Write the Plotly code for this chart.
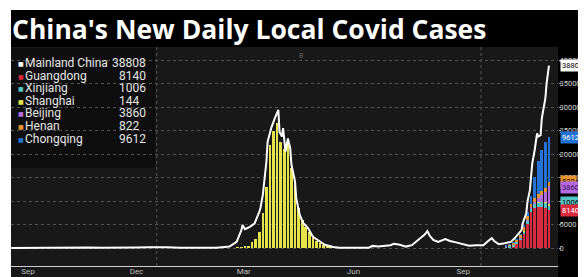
import plotly.graph_objects as go

# ---------------- data ----------------
line_dates = [
    "2021-09-01", "2021-09-10", "2021-09-15", "2021-09-25", "2021-10-05", "2021-10-20",
    "2021-10-28", "2021-11-05", "2021-11-15", "2021-11-25", "2021-12-05", "2021-12-10",
    "2021-12-15", "2021-12-25", "2022-01-01", "2022-01-10", "2022-01-20", "2022-02-01",
    "2022-02-10", "2022-02-20", "2022-02-27", "2022-03-03", "2022-03-09", "2022-03-13",
    "2022-03-14", "2022-03-16", "2022-03-20", "2022-03-24", "2022-03-28", "2022-03-29",
    "2022-03-31", "2022-04-01", "2022-04-03", "2022-04-04", "2022-04-07", "2022-04-10",
    "2022-04-13", "2022-04-14", "2022-04-16", "2022-04-17", "2022-04-19", "2022-04-21",
    "2022-04-23", "2022-04-24", "2022-04-27", "2022-04-28", "2022-05-01", "2022-05-04",
    "2022-05-08", "2022-05-12", "2022-05-16", "2022-05-22", "2022-05-29", "2022-06-03",
    "2022-06-17", "2022-06-28", "2022-07-01", "2022-07-06", "2022-07-16", "2022-07-19",
    "2022-07-24", "2022-07-29", "2022-08-03", "2022-08-08", "2022-08-11", "2022-08-14",
    "2022-08-16", "2022-08-18", "2022-08-21", "2022-08-25", "2022-08-31", "2022-09-04",
    "2022-09-09", "2022-09-15", "2022-09-20", "2022-09-26", "2022-10-02", "2022-10-06",
    "2022-10-09", "2022-10-11", "2022-10-15", "2022-10-20", "2022-10-25", "2022-10-28",
    "2022-10-31", "2022-11-03", "2022-11-04", "2022-11-07", "2022-11-08", "2022-11-10",
    "2022-11-11", "2022-11-12", "2022-11-14", "2022-11-15", "2022-11-16", "2022-11-17",
    "2022-11-19", "2022-11-20", "2022-11-21", "2022-11-23", "2022-11-24", "2022-11-26",
]
mainland_china = [
    20, 40, 60, 10, 5, 20,
    90, 90, 30, 20, 50, 120,
    80, 150, 180, 150, 70, 40,
    80, 60, 200, 300, 1300, 3800,
    4900, 4000, 4500, 5200, 7700, 8500,
    11300, 13400, 18400, 22600, 25500, 27600,
    29400, 24700, 23700, 25500, 20500, 23300,
    21200, 17700, 14100, 10600, 7000, 5300,
    4200, 2400, 1700, 700, 200, 50,
    30, 60, 450, 300, 600, 900,
    700, 300, 600, 1700, 2400, 2900,
    3600, 2600, 1700, 1300, 1900, 1500,
    1200, 800, 500, 600, 600, 1500,
    2100, 1500, 800, 1000, 1300, 2000,
    3000, 3800, 5300, 7400, 9900, 12300,
    15200, 18000, 20800, 23300, 24400, 23700,
    24000, 27600, 29400, 31900, 35000, 38808,
]

spring_dates = [
    "2022-03-10", "2022-03-13", "2022-03-16", "2022-03-19", "2022-03-22", "2022-03-25",
    "2022-03-28", "2022-03-31", "2022-04-03", "2022-04-06", "2022-04-09", "2022-04-12",
    "2022-04-15", "2022-04-18", "2022-04-21", "2022-04-24", "2022-04-27", "2022-04-30",
    "2022-05-03", "2022-05-06", "2022-05-09", "2022-05-12", "2022-05-15", "2022-05-18",
    "2022-05-21", "2022-05-24", "2022-05-27", "2022-05-30", "2022-06-02",
]
shanghai_spring = [
    80, 150, 300, 500, 1200, 1900,
    3500, 7500, 13000, 22000, 25000, 26500,
    22500, 21000, 22500, 17000, 13500, 8500,
    6000, 4500, 3500, 2200, 1500, 1100,
    700, 400, 250, 100, 50,
]

late_dates = [
    "2022-10-21", "2022-10-24", "2022-10-27", "2022-10-30", "2022-11-02", "2022-11-05",
    "2022-11-08", "2022-11-11", "2022-11-14", "2022-11-17", "2022-11-20", "2022-11-23",
    "2022-11-26",
]
guangdong = [100, 200, 400, 900, 1600, 3000, 5200, 7600, 8500, 8700, 8800, 8600, 8140]
xinjiang = [300, 300, 400, 400, 500, 600, 700, 800, 900, 1000, 1000, 1000, 1006]
shanghai_late = [10, 10, 20, 10, 20, 30, 30, 40, 50, 60, 80, 100, 144]
beijing = [20, 20, 30, 30, 40, 60, 100, 200, 400, 800, 1400, 2200, 3860]
henan = [100, 200, 300, 500, 700, 900, 800, 700, 800, 900, 800, 800, 822]
chongqing = [10, 20, 30, 50, 100, 300, 800, 1800, 4500, 7000, 8800, 9800, 9612]

legend_names = ["Mainland China", "Guangdong", "Xinjiang", "Shanghai", "Beijing", "Henan", "Chongqing"]
legend_values = ["38808", "8140", "1006", "144", "3860", "822", "9612"]

y_tick_values = [0, 5000, 10000, 15000, 20000, 25000, 30000, 35000, 40000]
y_tick_labels = ["0", "5000", "10000", "15000", "20000", "25000", "30000", "35000", "40000"]
x_tick_dates = ["2021-09-15", "2021-12-15", "2022-03-15", "2022-06-15", "2022-09-15"]
x_tick_labels = ["Sep", "Dec", "Mar", "Jun", "Sep"]

# ---------------- styles ----------------
C_MAIN = "#ffffff"
C_GD = "#d92b3f"
C_XJ = "#55c4c4"
C_SH = "#e4e34c"
C_BJ = "#b36be3"
C_HN = "#e8922e"
C_CQ = "#2572d6"
colors = [C_MAIN, C_GD, C_XJ, C_SH, C_BJ, C_HN, C_CQ]

FONT = "Roboto, sans-serif"

# The page body adds an 8px margin, so the figure is 8px smaller than the window.
OFF = 8
W, H = 586 - OFF, 277 - OFF
L, R, T, B = 11 - OFF, 28, 47 - OFF, 11
PW = W - L - R
PH = H - T - B


def px(x):  # window pixel -> paper x
    return (x - OFF - L) / PW


def py(y):  # window pixel -> paper y
    return (H - B - (y - OFF)) / PH


fig = go.Figure()

stack = [
    ("Guangdong", late_dates, guangdong, C_GD),
    ("Xinjiang", late_dates, xinjiang, C_XJ),
    ("Shanghai", spring_dates + late_dates, shanghai_spring + shanghai_late, C_SH),
    ("Beijing", late_dates, beijing, C_BJ),
    ("Henan", late_dates, henan, C_HN),
    ("Chongqing", late_dates, chongqing, C_CQ),
]
for name, xs, ys, col in stack:
    fig.add_trace(go.Bar(x=xs, y=ys, name=name, marker=dict(color=col, line=dict(width=0))))

fig.add_trace(go.Scatter(x=line_dates, y=mainland_china, mode="lines", name="Mainland China",
                         line=dict(color=C_MAIN, width=2)))

shapes = [
    dict(type="rect", xref="paper", yref="paper", x0=px(11), x1=px(590), y0=py(280), y1=py(10),
         fillcolor="#000000", line=dict(width=0), layer="below"),
    dict(type="rect", xref="paper", yref="paper", x0=px(11), x1=px(558), y0=py(280), y1=py(47),
         fillcolor="#181818", line=dict(width=0), layer="below"),
    dict(type="rect", xref="paper", yref="paper", x0=px(11), x1=px(155), y0=py(168), y1=py(48),
         fillcolor="#0e0e0e", line=dict(width=0), layer="below"),
]
for d in ["2022-01-01", "2022-09-30"]:
    shapes.append(dict(type="line", xref="x", yref="paper", x0=d, x1=d, y0=0, y1=1,
                       line=dict(color="#555555", width=1, dash="dot"), layer="below"))

annotations = [
    dict(text="China's New Daily Local Covid Cases", xref="paper", yref="paper",
         x=px(10), y=py(29), xanchor="left", yanchor="middle", showarrow=False,
         font=dict(family="Open Sans", size=26.5, color="#ffffff", weight="bold")),
    dict(text="B", xref="paper", yref="paper", x=px(301), y=py(50), showarrow=False,
         font=dict(family=FONT, size=7, color="#666666")),
]

legend_y = [63, 76, 88, 101, 113, 126, 139]
for i, (nm, val) in enumerate(zip(legend_names, legend_values)):
    yy = py(legend_y[i])
    annotations.append(dict(text="■", xref="paper", yref="paper", x=px(16), y=yy, xanchor="left",
                            yanchor="middle", showarrow=False,
                            font=dict(family="DejaVu Sans", size=6, color=colors[i])))
    annotations.append(dict(text=nm, xref="paper", yref="paper", x=px(23), y=yy, xanchor="left",
                            yanchor="middle", showarrow=False,
                            font=dict(family=FONT, size=12, color="#e6e6e6")))
    annotations.append(dict(text=val, xref="paper", yref="paper", x=px(110 if i == 0 else 117), y=yy,
                            xanchor="left", yanchor="middle", showarrow=False,
                            font=dict(family=FONT, size=12, color="#e6e6e6")))

# right-side value tags (drawn in order; later on top)
tags = [
    (822, 14100, C_HN, "#000000"),
    (1006, 9600, C_XJ, "#000000"),
    (3860, 12900, C_BJ, "#3a0f55"),
    (8140, 8050, C_GD, "#ffffff"),
    (9612, 23600, C_CQ, "#ffffff"),
    (38808, 38808, "#ffffff", "#000000"),
]
for val, yv, bg, fg in tags:
    annotations.append(dict(text=str(val), xref="paper", yref="y", x=px(560), y=yv, xanchor="left",
                            yanchor="middle", showarrow=False, bgcolor=bg, borderpad=1,
                            font=dict(family=FONT, size=7.5, color=fg)))

fig.update_layout(
    width=W, height=H,
    margin=dict(l=L, r=R, t=T, b=B, pad=0, autoexpand=False),
    paper_bgcolor="#ffffff",
    plot_bgcolor="rgba(0,0,0,0)",
    barmode="stack",
    bargap=0.25,
    showlegend=False,
    shapes=shapes,
    annotations=annotations,
    xaxis=dict(
        type="date", automargin=False,
        range=["2021-08-31 18:00", "2022-12-03 14:00"],
        tickvals=x_tick_dates, ticktext=x_tick_labels,
        ticks="", showgrid=False, zeroline=False,
        showline=True, linecolor="#cfcfcf", linewidth=1,
        tickfont=dict(family=FONT, size=8, color="#bdbdbd"),
    ),
    yaxis=dict(
        side="right", automargin=False,
        range=[-3830, 42770],
        tickvals=y_tick_values, ticktext=y_tick_labels,
        ticks="outside", ticklen=2, tickcolor="#aaaaaa",
        showgrid=True, gridcolor="#505050", griddash="dot", gridwidth=1,
        zeroline=False, showline=False,
        tickfont=dict(family=FONT, size=7.5, color="#d8d8d8"),
    ),
)
try:
    fig.update_xaxes(ticklabelstandoff=-3)
    fig.update_yaxes(ticklabelstandoff=-3)
except ValueError:
    pass

fig.write_html("out.html")
